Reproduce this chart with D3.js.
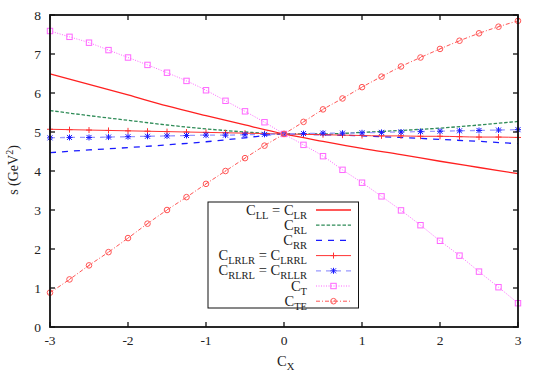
<!DOCTYPE html>
<html>
<head>
<meta charset="utf-8">
<script src="https://cdn.jsdelivr.net/npm/d3@7"></script>
<style>
  body { margin: 0; background: #fff; }
</style>
</head>
<body>
<svg id="chart" width="540" height="378"></svg>
<script>
// x values for the smooth curves and for the marked curves
var xCoarse = [-3, -2.5, -2, -1.5, -1, -0.5, 0, 0.5, 1, 1.5, 2, 2.5, 3];
var xFine = [-3, -2.75, -2.5, -2.25, -2, -1.75, -1.5, -1.25, -1, -0.75, -0.5, -0.25, 0,
             0.25, 0.5, 0.75, 1, 1.25, 1.5, 1.75, 2, 2.25, 2.5, 2.75, 3];

var sLL = [6.49, 6.22, 5.95, 5.67, 5.42, 5.18, 4.95, 4.76, 4.58, 4.42, 4.25, 4.09, 3.93];
var sRL = [5.55, 5.42, 5.30, 5.18, 5.08, 5.00, 4.95, 4.95, 4.99, 5.04, 5.10, 5.18, 5.27];
var sRR = [4.47, 4.54, 4.60, 4.67, 4.75, 4.85, 4.95, 4.93, 4.90, 4.86, 4.81, 4.76, 4.70];
var sLRLR = [5.07, 5.06, 5.05, 5.04, 5.03, 5.02, 5.01, 5.00, 4.99, 4.98, 4.97, 4.96, 4.95,
             4.94, 4.93, 4.92, 4.91, 4.90, 4.90, 4.89, 4.89, 4.88, 4.87, 4.87, 4.86];
var sRLRL = [4.85, 4.86, 4.86, 4.87, 4.88, 4.89, 4.90, 4.91, 4.92, 4.92, 4.93, 4.94, 4.95,
             4.96, 4.97, 4.97, 4.98, 4.99, 5.00, 5.01, 5.02, 5.03, 5.04, 5.05, 5.06];
var sT = [7.59, 7.44, 7.29, 7.10, 6.91, 6.72, 6.52, 6.31, 6.07, 5.80, 5.53, 5.25, 4.95,
          4.67, 4.38, 4.03, 3.70, 3.35, 2.99, 2.61, 2.21, 1.83, 1.42, 1.02, 0.61];
var sTE = [0.88, 1.22, 1.58, 1.92, 2.28, 2.65, 3.00, 3.33, 3.67, 4.00, 4.33, 4.65, 4.95,
           5.26, 5.58, 5.86, 6.15, 6.42, 6.68, 6.91, 7.13, 7.34, 7.53, 7.70, 7.85];

var xTicks = [-3, -2, -1, 0, 1, 2, 3];
var yTicks = [0, 1, 2, 3, 4, 5, 6, 7, 8];

var FONT = "'Liberation Serif', 'Times New Roman', Times, serif";

var svg = d3.select("#chart");
var pLeft = 50, pRight = 518, pTop = 15, pBottom = 327;

var x = d3.scaleLinear().domain([-3, 3]).range([pLeft, pRight]);
var y = d3.scaleLinear().domain([0, 8]).range([pBottom, pTop]);

var series = [
    {name: ["C", "LL", " = C", "LR"], xs: xCoarse, ys: sLL, color: "#ff2020", dash: null, width: 1.3, mark: null},
    {name: ["C", "RL"], xs: xCoarse, ys: sRL, color: "#2e8b57", dash: "3.5,1.8", width: 1.3, mark: null},
    {name: ["C", "RR"], xs: xCoarse, ys: sRR, color: "#1a1aff", dash: "6,6", width: 1.3, mark: null},
    {name: ["C", "LRLR", " = C", "LRRL"], xs: xFine, ys: sLRLR, color: "#ff3333", dash: null, width: 1, mark: "plus"},
    {name: ["C", "RLRL", " = C", "RLLR"], xs: xFine, ys: sRLRL, color: "#9a9aff", dash: "5,5", width: 1.3, mark: "star", markColor: "#1a1aff"},
    {name: ["C", "T"], xs: xFine, ys: sT, color: "#ff66ff", dash: "1,1.5", width: 1, mark: "square"},
    {name: ["C", "TE"], xs: xFine, ys: sTE, color: "#ff5555", dash: "4,2,1,2", width: 1, mark: "circle"}
];

function drawMark(g, type, cx, cy, color) {
    if (type === "plus") {
        g.append("path").attr("d", "M" + (cx - 3) + "," + cy + "h6M" + cx + "," + (cy - 3) + "v6")
            .attr("stroke", color).attr("stroke-width", 1).attr("fill", "none");
    } else if (type === "star") {
        g.append("path").attr("d", "M" + (cx - 3) + "," + cy + "h6M" + cx + "," + (cy - 3) + "v6" +
                "M" + (cx - 2.5) + "," + (cy - 2.5) + "l5,5M" + (cx - 2.5) + "," + (cy + 2.5) + "l5,-5")
            .attr("stroke", color).attr("stroke-width", 1).attr("fill", "none");
    } else if (type === "square") {
        g.append("rect").attr("x", cx - 2.7).attr("y", cy - 2.7).attr("width", 5.4).attr("height", 5.4)
            .attr("stroke", color).attr("stroke-width", 1).attr("fill", "none");
    } else if (type === "circle") {
        g.append("circle").attr("cx", cx).attr("cy", cy).attr("r", 2.8)
            .attr("stroke", color).attr("stroke-width", 1).attr("fill", "none");
        g.append("path").attr("d", "M" + (cx - 1.5) + "," + (cy + 1.5) + "l3,-3")
            .attr("stroke", color).attr("stroke-width", 0.8);
    }
}

var line = d3.line().curve(d3.curveMonotoneX);

var plot = svg.append("g");
series.forEach(function(s) {
    var pts = s.xs.map(function(v, i) { return [x(v), y(s.ys[i])]; });
    plot.append("path")
        .attr("d", line(pts))
        .attr("fill", "none")
        .attr("stroke", s.color)
        .attr("stroke-width", s.width)
        .attr("stroke-dasharray", s.dash);
    if (s.mark) {
        pts.forEach(function(p) { drawMark(plot, s.mark, p[0], p[1], s.markColor || s.color); });
    }
});

// frame and ticks (mirrored on all sides, pointing inward)
var axes = svg.append("g");
axes.append("rect").attr("x", pLeft).attr("y", pTop).attr("width", pRight - pLeft).attr("height", pBottom - pTop)
    .attr("fill", "none").attr("stroke", "#111").attr("stroke-width", 1.8);

xTicks.forEach(function(t) {
    axes.append("line").attr("x1", x(t)).attr("x2", x(t)).attr("y1", pBottom).attr("y2", pBottom - 5)
        .attr("stroke", "#111").attr("stroke-width", 1.3);
    axes.append("line").attr("x1", x(t)).attr("x2", x(t)).attr("y1", pTop).attr("y2", pTop + 5)
        .attr("stroke", "#111").attr("stroke-width", 1.3);
    axes.append("text").attr("x", x(t)).attr("y", pBottom + 18).attr("text-anchor", "middle")
        .attr("font-family", FONT).attr("fill", "#222").attr("font-size", 13.5).text(t);
});
yTicks.forEach(function(t) {
    axes.append("line").attr("x1", pLeft).attr("x2", pLeft + 5).attr("y1", y(t)).attr("y2", y(t))
        .attr("stroke", "#111").attr("stroke-width", 1.3);
    axes.append("line").attr("x1", pRight).attr("x2", pRight - 5).attr("y1", y(t)).attr("y2", y(t))
        .attr("stroke", "#111").attr("stroke-width", 1.3);
    axes.append("text").attr("x", 41).attr("y", y(t) + 4.5).attr("text-anchor", "end")
        .attr("font-family", FONT).attr("fill", "#222").attr("font-size", 13.5).text(t);
});

// axis titles
var xt = svg.append("text").attr("x", 277).attr("y", 366).attr("font-size", 14.5)
    .attr("font-family", FONT).attr("fill", "#222");
xt.append("tspan").text("C");
xt.append("tspan").attr("font-size", 10.5).attr("dy", 4).text("X");

var yt = svg.append("text").attr("transform", "translate(18,170) rotate(-90)")
    .attr("text-anchor", "middle").attr("font-size", 14).attr("font-family", FONT).attr("fill", "#222");
yt.append("tspan").text("s (GeV");
yt.append("tspan").attr("font-size", 10).attr("dy", -5).text("2");
yt.append("tspan").attr("dy", 5).text(")");

// legend
var legend = svg.append("g");
legend.append("rect").attr("x", 208).attr("y", 202).attr("width", 150.5).attr("height", 106)
    .attr("fill", "#fff").attr("stroke", "#111").attr("stroke-width", 1);

series.forEach(function(s, i) {
    var ly = 210 + i * 15.2;
    var t = legend.append("text").attr("x", 307).attr("y", ly + 4.5).attr("text-anchor", "end")
        .attr("font-size", 14.5).attr("font-family", FONT).attr("fill", "#222");
    s.name.forEach(function(part, j) {
        if (j % 2 === 0) {
            t.append("tspan").attr("dy", j === 0 ? 0 : -4).text(part);
        } else {
            t.append("tspan").attr("font-size", 10.5).attr("dy", 4).text(part);
        }
    });
    legend.append("line").attr("x1", 316).attr("x2", 351).attr("y1", ly).attr("y2", ly)
        .attr("stroke", s.color).attr("stroke-width", s.width).attr("stroke-dasharray", s.dash);
    if (s.mark) drawMark(legend, s.mark, 333.5, ly, s.markColor || s.color);
});
</script>
</body>
</html>
